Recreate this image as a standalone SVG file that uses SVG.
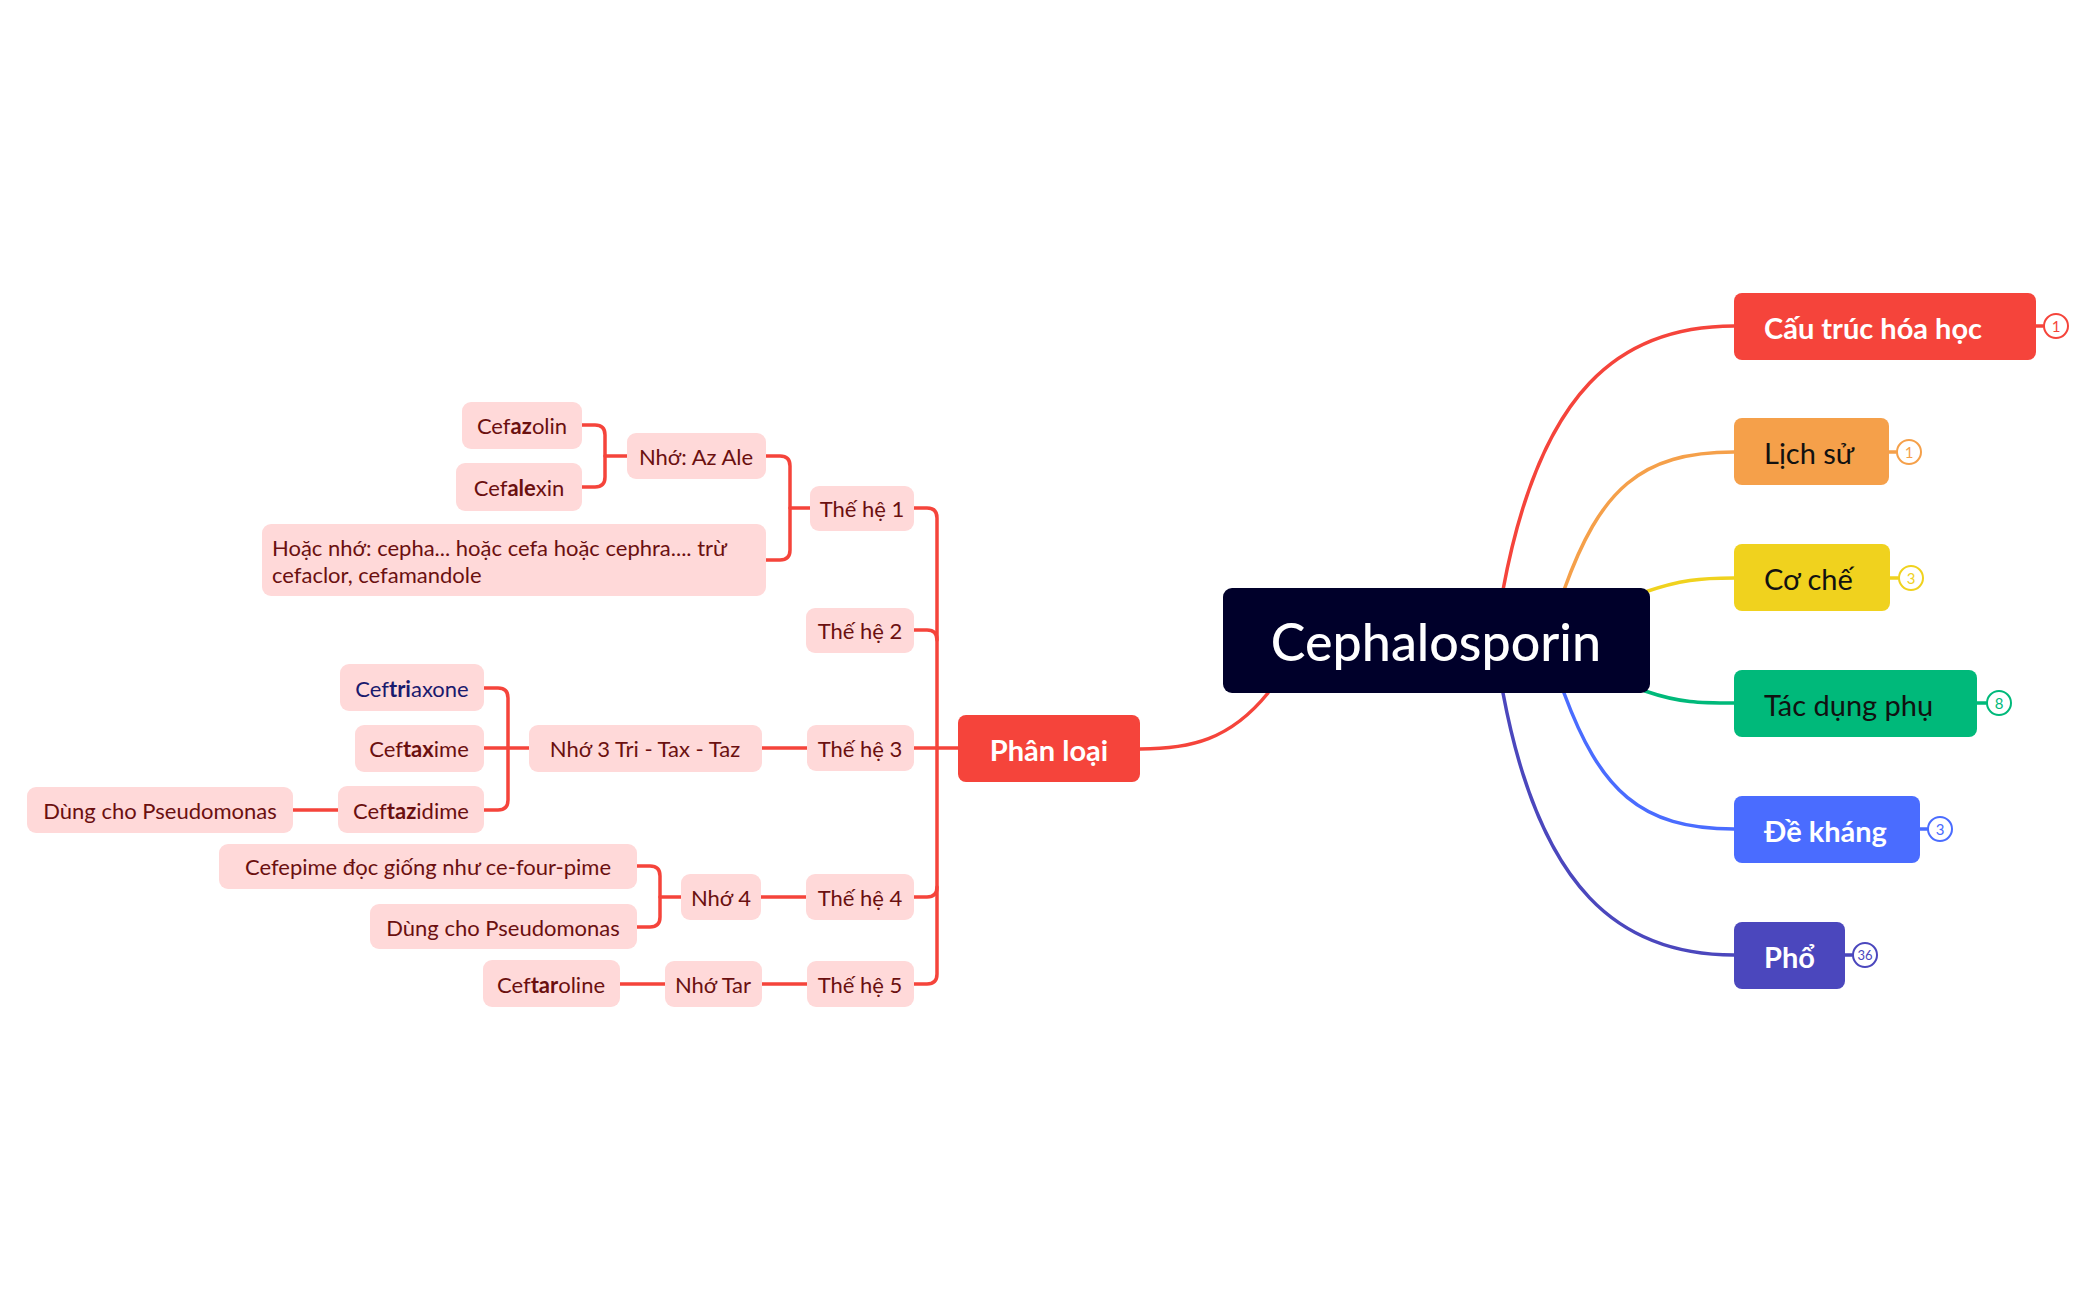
<svg xmlns="http://www.w3.org/2000/svg" width="2096" height="1300" viewBox="0 0 2096 1300">
<style>
text{font-family:Lato,"Noto Sans",sans-serif}
.c{fill:none;stroke-width:3.5;stroke-linecap:round}
.r{stroke:#f5443b}
.n rect{fill:#ffd9d9}
.n text{font-size:22px;fill:#6b1010;dominant-baseline:central}
.t text{font-size:29px;dominant-baseline:central}
.b circle{fill:#fff;stroke-width:2}
.b text{font-size:15px;text-anchor:middle;dominant-baseline:central}
</style>
<rect width="2096" height="1300" fill="#fff"/>
<g id="connectors">
<path class="c" stroke="#f5443b" d="M1503,590 C1540,390 1620,326 1734,326"/>
<path class="c" stroke="#f5a04a" d="M1564,590 C1600,490 1640,452 1734,452"/>
<path class="c" stroke="#f0d21e" d="M1645,592 C1680,580 1700,578 1734,578"/>
<path class="c" stroke="#00b97a" d="M1645,691 C1680,703 1700,703 1734,703"/>
<path class="c" stroke="#4a6cff" d="M1564,693 C1600,790 1640,829 1734,829"/>
<path class="c" stroke="#4b47bd" d="M1503,693 C1540,890 1620,955 1734,955"/>
<path class="c r" d="M1268,693 C1230,740 1190,749 1140,749"/>
<path class="c" stroke="#f5443b" d="M2036,326 H2043"/>
<path class="c" stroke="#f5a04a" d="M1889,452 H1896"/>
<path class="c" stroke="#f0d21e" d="M1890,578 H1898"/>
<path class="c" stroke="#00b97a" d="M1977,703 H1986"/>
<path class="c" stroke="#4a6cff" d="M1920,829 H1927"/>
<path class="c" stroke="#4b47bd" d="M1845,955 H1852"/>
<path class="c r" d="M914,508 H927 Q937,508 937,518 V974 Q937,984 927,984 H914"/>
<path class="c r" d="M914,630 H927 Q937,630 937,640"/>
<path class="c r" d="M914,748 H958"/>
<path class="c r" d="M914,897 H927 Q937,897 937,887"/>
<path class="c r" d="M766,456 H780 Q790,456 790,466 V550 Q790,560 780,560 H766"/>
<path class="c r" d="M790,508 H810"/>
<path class="c r" d="M582,425 H595 Q605,425 605,435 V477 Q605,487 595,487 H582"/>
<path class="c r" d="M605,456 H627"/>
<path class="c r" d="M762,748 H807"/>
<path class="c r" d="M484,688 H498 Q508,688 508,698 V800 Q508,810 498,810 H484"/>
<path class="c r" d="M484,748 H529"/>
<path class="c r" d="M293,810 H338"/>
<path class="c r" d="M761,897 H806"/>
<path class="c r" d="M637,866 H650 Q660,866 660,876 V917 Q660,927 650,927 H637"/>
<path class="c r" d="M660,897 H681"/>
<path class="c r" d="M762,984 H807"/>
<path class="c r" d="M620,984 H665"/>
</g>
<g id="root"><rect x="1223" y="588" width="427" height="105" rx="9" fill="#00002a"/><text x="1436" y="641" style="font-size:52px;dominant-baseline:central" text-anchor="middle" fill="#fff" font-weight="500">Cephalosporin</text></g>
<g id="cau-truc" class="t"><rect x="1734" y="293" width="302" height="67" rx="8" fill="#f5443b"/><text x="1764" y="327" fill="#fff" font-weight="bold">Cấu trúc hóa học</text></g>
<g id="lich-su" class="t"><rect x="1734" y="418" width="155" height="67" rx="8" fill="#f5a04a"/><text x="1764" y="452" fill="#111">Lịch sử</text></g>
<g id="co-che" class="t"><rect x="1734" y="544" width="156" height="67" rx="8" fill="#f0d21e"/><text x="1764" y="578" fill="#111">Cơ chế</text></g>
<g id="tac-dung" class="t"><rect x="1734" y="670" width="243" height="67" rx="8" fill="#00b97a"/><text x="1764" y="704" fill="#111">Tác dụng phụ</text></g>
<g id="de-khang" class="t"><rect x="1734" y="796" width="186" height="67" rx="8" fill="#4a6cff"/><text x="1764" y="830" fill="#fff" font-weight="bold">Đề kháng</text></g>
<g id="pho" class="t"><rect x="1734" y="922" width="111" height="67" rx="8" fill="#4b47bd"/><text x="1764" y="956" fill="#fff" font-weight="bold">Phổ</text></g>
<g id="badges" class="b">
<circle cx="2056" cy="326" r="12" stroke="#f5443b"/><text x="2056" y="326" fill="#f5443b">1</text>
<circle cx="1909" cy="452" r="12" stroke="#f5a04a"/><text x="1909" y="452" fill="#f5a04a">1</text>
<circle cx="1911" cy="578" r="12" stroke="#f0d21e"/><text x="1911" y="578" fill="#f0d21e">3</text>
<circle cx="1999" cy="703" r="12" stroke="#00b97a"/><text x="1999" y="703" fill="#00b97a">8</text>
<circle cx="1940" cy="829" r="12" stroke="#4a6cff"/><text x="1940" y="829" fill="#4a6cff">3</text>
<circle cx="1865" cy="955" r="12" stroke="#4b47bd"/><text x="1865" y="955" fill="#4b47bd" style="font-size:13px">36</text>
</g>
<g id="phan-loai" class="t"><rect x="958" y="715" width="182" height="67" rx="8" fill="#f5443b"/><text x="1049" y="749" fill="#fff" font-weight="bold" text-anchor="middle">Phân loại</text></g>
<g id="th1" class="n"><rect x="810" y="486" width="104" height="45" rx="9"/><text x="862" y="508" text-anchor="middle">Thế hệ 1</text></g>
<g id="th2" class="n"><rect x="806" y="608" width="108" height="45" rx="9"/><text x="860" y="630" text-anchor="middle">Thế hệ 2</text></g>
<g id="th3" class="n"><rect x="807" y="725" width="107" height="46" rx="9"/><text x="860" y="748" text-anchor="middle">Thế hệ 3</text></g>
<g id="th4" class="n"><rect x="806" y="874" width="108" height="46" rx="9"/><text x="860" y="897" text-anchor="middle">Thế hệ 4</text></g>
<g id="th5" class="n"><rect x="807" y="961" width="107" height="46" rx="9"/><text x="860" y="984" text-anchor="middle">Thế hệ 5</text></g>
<g id="az-ale" class="n"><rect x="627" y="433" width="139" height="46" rx="9"/><text x="696" y="456" text-anchor="middle">Nhớ: Az Ale</text></g>
<g id="cefazolin" class="n"><rect x="462" y="402" width="120" height="47" rx="9"/><text x="522" y="425" text-anchor="middle">Cef<tspan font-weight="bold">az</tspan>olin</text></g>
<g id="cefalexin" class="n"><rect x="456" y="463" width="126" height="48" rx="9"/><text x="519" y="487" text-anchor="middle">Cef<tspan font-weight="bold">ale</tspan>xin</text></g>
<g id="hoac-nho" class="n"><rect x="262" y="524" width="504" height="72" rx="9"/><text x="272" y="547">Hoặc nhớ: cepha... hoặc cefa hoặc cephra.... trừ</text><text x="272" y="574">cefaclor, cefamandole</text></g>
<g id="nho3" class="n"><rect x="529" y="725" width="233" height="47" rx="9"/><text x="645" y="748" text-anchor="middle">Nhớ 3 Tri - Tax - Taz</text></g>
<g id="ceftriaxone" class="n"><rect x="340" y="664" width="144" height="47" rx="9"/><text x="412" y="688" text-anchor="middle" style="fill:#1a1a6e">Cef<tspan font-weight="bold">tri</tspan>axone</text></g>
<g id="ceftaxime" class="n"><rect x="355" y="725" width="129" height="47" rx="9"/><text x="419" y="748" text-anchor="middle">Cef<tspan font-weight="bold">tax</tspan>ime</text></g>
<g id="ceftazidime" class="n"><rect x="338" y="786" width="146" height="47" rx="9"/><text x="411" y="810" text-anchor="middle">Cef<tspan font-weight="bold">taz</tspan>idime</text></g>
<g id="pseudo1" class="n"><rect x="27" y="787" width="266" height="46" rx="9"/><text x="160" y="810" text-anchor="middle">Dùng cho Pseudomonas</text></g>
<g id="nho4" class="n"><rect x="681" y="874" width="80" height="46" rx="9"/><text x="721" y="897" text-anchor="middle">Nhớ 4</text></g>
<g id="cefepime" class="n"><rect x="219" y="844" width="418" height="45" rx="9"/><text x="428" y="866" text-anchor="middle">Cefepime đọc giống như ce-four-pime</text></g>
<g id="pseudo2" class="n"><rect x="370" y="904" width="267" height="45" rx="9"/><text x="503" y="927" text-anchor="middle">Dùng cho Pseudomonas</text></g>
<g id="nho-tar" class="n"><rect x="665" y="961" width="97" height="46" rx="9"/><text x="713" y="984" text-anchor="middle">Nhớ Tar</text></g>
<g id="ceftaroline" class="n"><rect x="483" y="960" width="137" height="47" rx="9"/><text x="551" y="984" text-anchor="middle">Cef<tspan font-weight="bold">tar</tspan>oline</text></g>
</svg>
